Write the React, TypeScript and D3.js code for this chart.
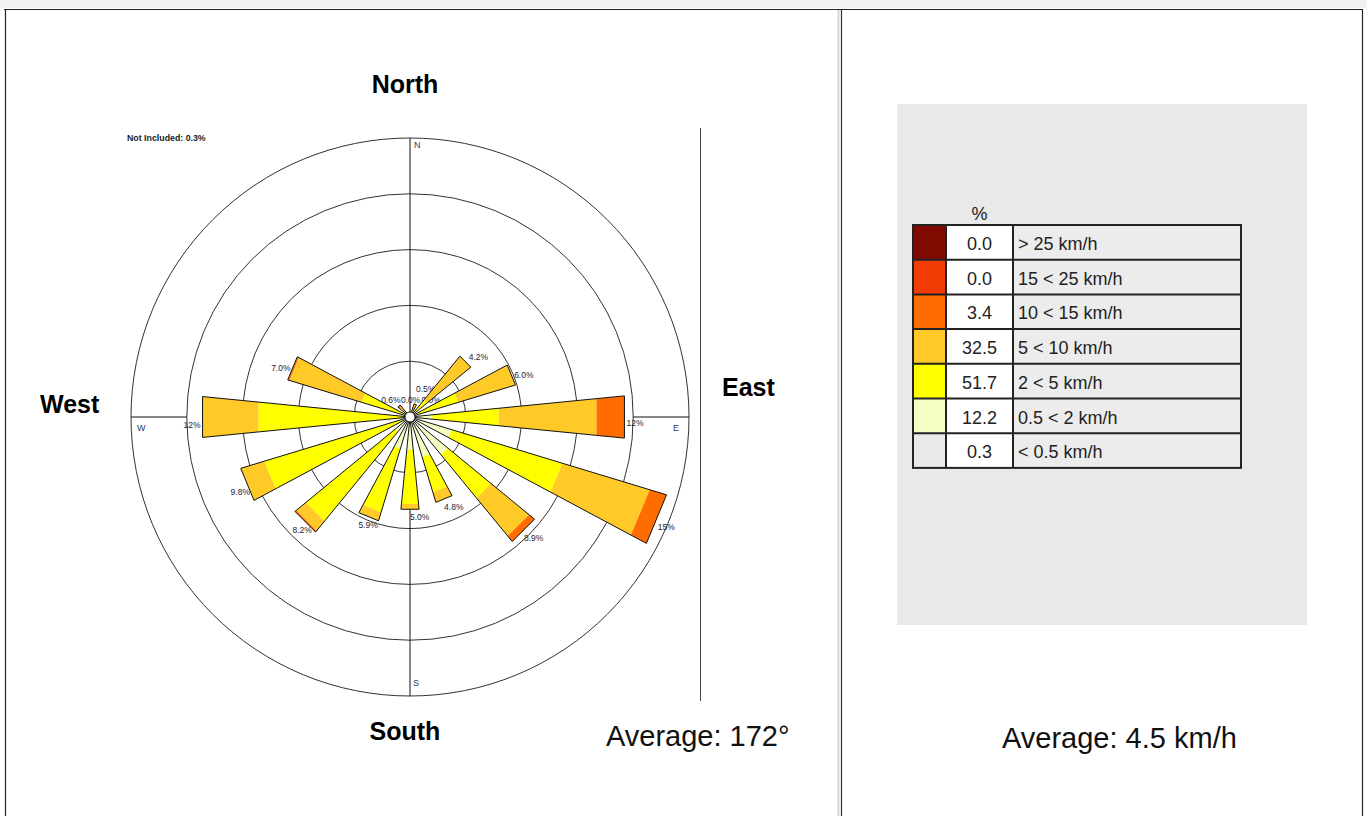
import React from 'react';
import * as d3 from 'd3';

// Sixteen compass sectors, clockwise from north
const directions = ['N', 'NNE', 'NE', 'ENE', 'E', 'ESE', 'SE', 'SSE', 'S', 'SSW', 'SW', 'WSW', 'W', 'WNW', 'NW', 'NNW'];

// Frequency (%) per sector for each wind speed class
const freq05to2 = [0, 0, 0, 0.2, 1.0, 2.2, 2.5, 2.1, 1.6, 1.6, 0.8, 0.2, 0.1, 0, 0, 0];
const freq2to5 = [0, 0.2, 1.0, 2.4, 3.8, 6.6, 3.2, 2.1, 3.1, 3.8, 6.6, 8.2, 8.3, 2.6, 0.1, 0];
const freq5to10 = [0, 0.3, 3.2, 3.4, 5.6, 5.2, 2.8, 0.6, 0.3, 0.5, 0.7, 1.4, 3.2, 4.3, 0.4, 0];
const freq10to15 = [0, 0, 0, 0, 1.6, 1.0, 0.4, 0, 0, 0, 0.1, 0, 0, 0.1, 0.1, 0];
const freq15to25 = [0, 0, 0, 0, 0, 0, 0, 0, 0, 0, 0, 0, 0, 0, 0, 0];
const freqOver25 = [0, 0, 0, 0, 0, 0, 0, 0, 0, 0, 0, 0, 0, 0, 0, 0];

// Legend: speed classes (fastest first) with their share of all hours
const speedClasses = ['> 25 km/h', '15 < 25 km/h', '10 < 15 km/h', '5 < 10 km/h', '2 < 5 km/h', '0.5 < 2 km/h', '< 0.5 km/h'];
const classColors = ['#800a00', '#f03c00', '#ff6d00', '#ffc928', '#ffff00', '#f3ffc2', '#e9e9e9'];
const classPercent = [0.0, 0.0, 3.4, 32.5, 51.7, 12.2, 0.3];

const compassLabels = ['North', 'East', 'South', 'West'];
const averageDirection = 172;
const averageSpeed = 4.5;

const W = 1367;
const H = 816;
const cx = 410;
const cy = 417;
const outerR = 279;
const hubR = 5;
const ringCount = 5;
const maxPct = 15.7;
const halfWidth = (11.25 / 2) * (Math.PI / 180);

const rScale = d3.scaleLinear().domain([0, maxPct]).range([hubR, outerR]);
const angle = d3.scaleLinear().domain([0, directions.length]).range([0, 2 * Math.PI]);

const keys = ['c05', 'c2', 'c5', 'c10', 'c15', 'c25'];
const stackColors = [classColors[5], classColors[4], classColors[3], classColors[2], classColors[1], classColors[0]];
const rows = directions.map((d, i) => ({
  dir: d,
  c05: freq05to2[i],
  c2: freq2to5[i],
  c5: freq5to10[i],
  c10: freq10to15[i],
  c15: freq15to25[i],
  c25: freqOver25[i],
}));
const series = d3.stack<any>().keys(keys)(rows);

const polar = (r: number, a: number): [number, number] => [cx + r * Math.sin(a), cy - r * Math.cos(a)];
const closed = d3.line().curve(d3.curveLinearClosed);

// Straight-edged wedge between two radii
const wedge = (r0: number, r1: number, a: number) => {
  const k = 1 / Math.cos(halfWidth);
  return closed([
    polar(r0 * k, a - halfWidth),
    polar(r1 * k, a - halfWidth),
    polar(r1 * k, a + halfWidth),
    polar(r0 * k, a + halfWidth),
  ]) as string;
};

const fmtPct = (v: number) => (v >= 10 ? d3.format('.0f')(v) : d3.format('.1f')(v)) + '%';

// Labels of the tiny northern sectors sit in a row just above the hub
const hubLabelOffsets: Record<string, [number, number, string]> = {
  NW: [-9.5, -14, 'end'],
  NNW: [-9, -14, 'start'],
  N: [11.5, -14, 'start'],
  NNE: [6, -25.5, 'start'],
};

const labelFont = "'Liberation Sans', Arial, sans-serif";

export default function App() {
  const totals = rows.map((_, i) => series[series.length - 1][i][1]);
  const rings = d3.range(1, ringCount + 1).map((k) => (outerR * k) / ringCount);

  // Legend table geometry
  const tx = 913;
  const ty = 225;
  const rowH = 34.7;
  const colSwatch = 33;
  const colValue = 67;
  const tableW = 328;

  return (
    <svg width={W} height={H} style={{ position: 'absolute', left: 0, top: 0, display: 'block' }} fontFamily={labelFont}>
      <rect x={0} y={0} width={W} height={H} fill="#fff" />
      <rect x={0} y={0} width={W} height={8} fill="#f2f2f2" />
      {/* page frame */}
      <line x1={4} x2={1363} y1={9.5} y2={9.5} stroke="#222" strokeWidth={1.2} />
      <line x1={5.5} x2={5.5} y1={9} y2={H} stroke="#222" strokeWidth={1.2} />
      <line x1={838.5} x2={838.5} y1={10} y2={H} stroke="#d6d6d6" strokeWidth={2} />
      <line x1={841.5} x2={841.5} y1={9} y2={H} stroke="#333" strokeWidth={1.2} />
      <line x1={1362.5} x2={1362.5} y1={9} y2={H} stroke="#222" strokeWidth={1.2} />

      {/* rose grid */}
      <g fill="none" stroke="#333" strokeWidth={1}>
        {rings.map((r, i) => (
          <circle key={i} cx={cx} cy={cy} r={r} />
        ))}
        <line x1={cx} x2={cx} y1={cy - outerR} y2={cy + outerR} stroke="#111" />
        <line x1={cx - outerR} x2={cx - rings[ringCount - 2]} y1={cy} y2={cy} stroke="#111" />
        <line x1={cx + rings[ringCount - 2]} x2={cx + outerR} y1={cy} y2={cy} stroke="#111" />
      </g>
      <line x1={700.5} x2={700.5} y1={128} y2={701} stroke="#444" strokeWidth={1} />

      {/* sector percentages */}
      {directions.map((d, i) => {
        const a = angle(i);
        const s = Math.sin(a);
        const c = Math.cos(a);
        const [ex, ey] = polar(rScale(totals[i]), a);
        let x = ex + 2 + 2 * c;
        let y = ey + (c < 0 ? 11 : 8.5 - 14 * c);
        let anchor = 'start';
        const hub = hubLabelOffsets[d];
        if (hub && totals[i] < 1) {
          x = cx + hub[0];
          y = cy + hub[1];
          anchor = hub[2];
        } else if (s < -0.01) {
          x = ex - 2 + Math.max(0, -c) * 12;
          anchor = 'end';
        }
        return (
          <text key={d} x={x} y={y} fontSize={8.5} fill="#1d2233" textAnchor={anchor}>
            {fmtPct(totals[i])}
          </text>
        );
      })}

      {/* wedges */}
      {directions.map((d, i) => {
        const a = angle(i);
        const tot = totals[i];
        return (
          <g key={d}>
            {series.map((s, k) => {
              const [v0, v1] = s[i];
              if (v1 - v0 <= 0) return null;
              return <path key={k} d={wedge(rScale(v0), rScale(v1), a)} fill={stackColors[k]} stroke="none" />;
            })}
            {tot > 0 && <path d={wedge(rScale(0), rScale(tot), a)} fill="none" stroke="#111" strokeWidth={1} strokeLinejoin="miter" />}
          </g>
        );
      })}
      <circle cx={cx} cy={cy} r={hubR} fill="#fff" stroke="#222" strokeWidth={1} />

      {/* compass letters on the rose */}
      <g fontSize={9} fill="#2b3a67">
        <text x={414} y={148}>N</text>
        <text x={673} y={431}>E</text>
        <text x={413} y={686}>S</text>
        <text x={137} y={431}>W</text>
      </g>

      <text x={127} y={141} fontSize={8.8} fontWeight="bold" fill="#222">
        {`Not Included: ${d3.format('.1f')(classPercent[6])}%`}
      </text>

      {/* cardinal headings */}
      <g fontSize={25} fontWeight="bold" fill="#000">
        <text x={405} y={93} textAnchor="middle">{compassLabels[0]}</text>
        <text x={722} y={396}>{compassLabels[1]}</text>
        <text x={405} y={740} textAnchor="middle">{compassLabels[2]}</text>
        <text x={40} y={413}>{compassLabels[3]}</text>
      </g>

      <text x={606} y={746} fontSize={29} fill="#111">{`Average: ${averageDirection}°`}</text>

      {/* speed legend */}
      <rect x={897} y={104} width={410} height={521} fill="#e9e9e9" />
      <text x={tx + colSwatch + colValue / 2} y={220} fontSize={18} textAnchor="middle" fill="#222">%</text>
      {speedClasses.map((lab, i) => {
        const y0 = ty + i * rowH;
        return (
          <g key={lab}>
            <rect x={tx} y={y0} width={colSwatch} height={rowH} fill={classColors[i]} />
            <rect x={tx + colSwatch} y={y0} width={colValue} height={rowH} fill="#fff" />
            <rect x={tx + colSwatch + colValue} y={y0} width={tableW - colSwatch - colValue} height={rowH} fill="#ececec" />
            <text x={tx + colSwatch + colValue / 2} y={y0 + 25} fontSize={18} textAnchor="middle" fill="#222">
              {d3.format('.1f')(classPercent[i])}
            </text>
            <text x={tx + colSwatch + colValue + 5} y={y0 + 25} fontSize={18} fill="#222">
              {lab}
            </text>
          </g>
        );
      })}
      <g stroke="#222" strokeWidth={2} fill="none">
        <rect x={tx} y={ty} width={tableW} height={rowH * speedClasses.length} />
        {d3.range(1, speedClasses.length).map((i) => (
          <line key={i} x1={tx} x2={tx + tableW} y1={ty + i * rowH} y2={ty + i * rowH} />
        ))}
        <line x1={tx + colSwatch} x2={tx + colSwatch} y1={ty} y2={ty + rowH * speedClasses.length} />
        <line x1={tx + colSwatch + colValue} x2={tx + colSwatch + colValue} y1={ty} y2={ty + rowH * speedClasses.length} />
      </g>

      <text x={1002} y={748} fontSize={29} fill="#111">{`Average: ${averageSpeed} km/h`}</text>
    </svg>
  );
}
